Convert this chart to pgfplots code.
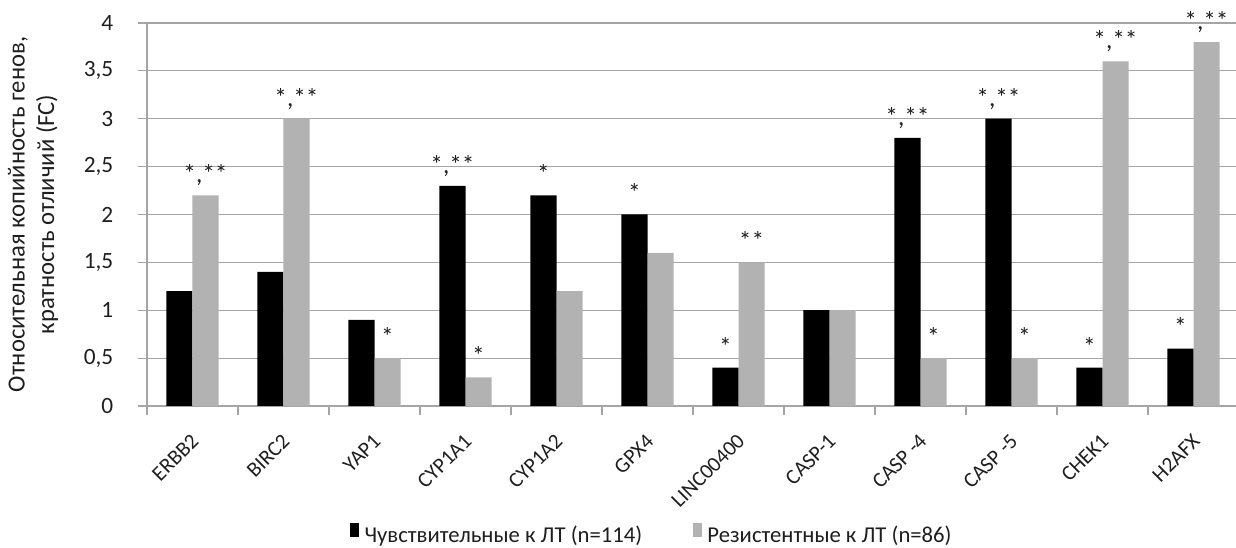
\documentclass[border=0pt]{standalone}
\usepackage{pgfplots}
\pgfplotsset{compat=1.18}
\usepackage{pgfplotstable}
\usepackage{fontspec}
\setmainfont{Carlito}
\definecolor{barG}{RGB}{178,178,178}
\definecolor{gridG}{RGB}{165,165,165}
\definecolor{txt}{RGB}{30,30,30}
\pgfplotstableread{
x  blk  blab   gry  glab
0  1.2  {}     2.2  {*,**}
1  1.4  {}     3.0  {*,**}
2  0.9  {}     0.5  {*}
3  2.3  {*,**} 0.3  {*}
4  2.2  {*}    1.2  {}
5  2.0  {*}    1.6  {}
6  0.4  {*}    1.5  {**}
7  1.0  {}     1.0  {}
8  2.8  {*,**} 0.5  {*}
9  3.0  {*,**} 0.5  {*}
10 0.4  {*}    3.6  {*,**}
11 0.6  {*}    3.8  {*,**}
}\datatab
\begin{document}
\begin{tikzpicture}
\begin{axis}[
  at={(0,0)}, anchor=south west,
  scale only axis, width=819pt, height=287.25pt,
  ybar=0pt, bar width=0.286,
  xmin=-0.5, xmax=11.5, ymin=0, ymax=4,
  ytick={0,0.5,...,4},
  xtick={0,...,11},
  xticklabels={ERBB2,BIRC2,YAP1,CYP1A1,CYP1A2,GPX4,LINC00400,CASP-1,CASP -4,CASP -5,CHEK1,H2AFX},
  minor xtick={-0.5,0.5,...,11.5},
  major x tick style={draw=none},
  tick align=outside,
  major tick length=6.75pt, minor tick length=6.75pt,
  tick style={gridG, line width=0.8pt},
  axis x line*=bottom, axis y line*=left,
  axis line style={gridG, line width=0.8pt, -},
  ymajorgrids, grid style={gridG, line width=0.8pt},
  /pgf/number format/use comma, /pgf/number format/fixed,
  /pgf/number format/assume math mode=true,
  yticklabel style={font=\fontsize{17.5}{20}\selectfont, text=txt, xshift=-15pt},
  xticklabel style={yshift=-17pt, xshift=2pt, rotate=45, anchor=east, inner sep=0pt, font=\fontsize{16}{19}\selectfont, text=txt},
  ylabel={Относительная копийность генов,\\кратность отличий (FC)},
  ylabel style={at={(axis description cs:-0.1044,0.5)}, anchor=center, rotate=0, align=center, text=txt, font=\fontsize{18.5}{22}\selectfont},
  legend columns=2,
  legend style={draw=none, at={(axis description cs:0.4625,-0.338)}, anchor=center, text=txt, font=\fontsize{17}{20}\selectfont,
    /tikz/every even column/.append style={column sep=36pt},
    /tikz/every odd column/.append style={column sep=2pt}},
  legend image code/.code={\fill[#1] (0pt,-1.5pt) rectangle (7pt,9pt);},
  nodes near coords,
  point meta=explicit symbolic,
  every node near coord/.append style={anchor=base, yshift=9.5pt, text=txt, font=\fontsize{19}{21}\selectfont, inner sep=0pt},
]
\addplot[fill=black, draw=none] table[x=x, y=blk, meta=blab] {\datatab};
\addplot[fill=barG, draw=none] table[x=x, y=gry, meta=glab] {\datatab};
\legend{Чувствительные к ЛТ (n=114), Резистентные к ЛТ (n=86)}
\end{axis}
\pgfresetboundingbox
\useasboundingbox (-110.25pt,-106.5pt) rectangle (816.75pt,304.5pt);
\end{tikzpicture}
\end{document}
